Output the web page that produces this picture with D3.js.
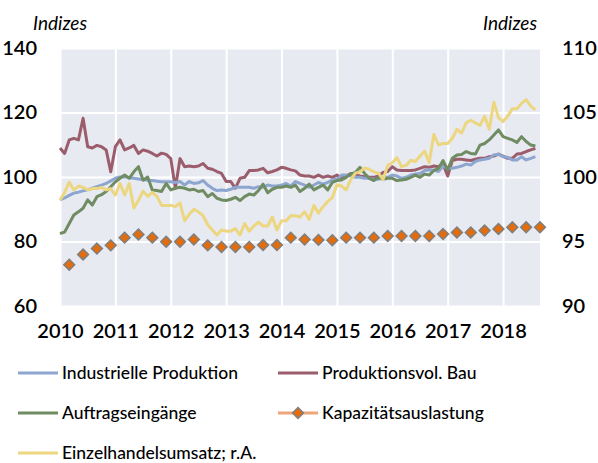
<!DOCTYPE html>
<html>
<head>
<meta charset="utf-8">
<script src="https://cdn.jsdelivr.net/npm/d3@7"></script>
<style>
  html, body { margin: 0; padding: 0; background: #fff; }
  svg { display: block; font-family: Lato, "Open Sans", sans-serif; }
</style>
</head>
<body>
<div id="chart"></div>
<script>
// monthly series, Jan 2010 .. Aug 2018 (left axis)
const industrie = [92.9, 93.5, 94.3, 95, 95.3, 95.7, 96, 96.5, 97, 97.5, 98, 98.8, 99.6, 100, 100.1, 99.8, 99.6, 99.4, 99.2, 99, 98.9, 98.7, 98.5, 98.5, 98.5, 98.3, 98.6, 97.5, 98.6, 98, 98.2, 98.9, 97.5, 96.5, 95.8, 96, 95.8, 96.2, 96.8, 96.8, 96.8, 96.8, 96.5, 97, 96.8, 97.5, 97.2, 97.2, 97.5, 98, 97.2, 98.6, 98, 97.5, 96.8, 97.5, 98.3, 97.8, 98.3, 99.1, 99.3, 100.6, 100.6, 100.3, 99.9, 99.9, 99.6, 99.6, 99.3, 99.3, 99.9, 99.9, 100.6, 100.3, 99.6, 99.9, 100.6, 100.9, 101.1, 102, 102.2, 102.2, 101.7, 103.4, 102.7, 102.7, 103, 103.4, 104, 103.7, 104.8, 105.3, 105.5, 105.8, 106.8, 107.1, 106.3, 106.1, 105.3, 105.3, 106.3, 105.3, 105.8, 106.3]
const bau = [109, 107.3, 111.5, 112, 111.5, 118.2, 109.4, 109, 109.8, 109.4, 108.4, 101.6, 109.4, 111.5, 108.4, 109, 109.8, 107.3, 108.4, 108, 107.3, 106.5, 107.4, 107, 105.7, 96.5, 105.7, 103.2, 103.4, 103.2, 103.4, 104.2, 102.7, 102.4, 101.7, 101.1, 98.6, 98.6, 96.5, 99.6, 99.9, 102, 102, 102.2, 102.7, 101.3, 101.7, 102.2, 103, 102.7, 102.2, 101.9, 100.6, 100.3, 100.3, 99.9, 100.6, 99.9, 100.3, 99.9, 100.6, 99.6, 100.3, 101.1, 100.6, 100.3, 100.1, 99.9, 99.9, 100.3, 101.4, 101.7, 103.2, 102.2, 102, 102, 102, 102.2, 102.7, 103.2, 103, 103.4, 103.2, 104, 100.3, 105.1, 105.5, 105.5, 105.3, 105.1, 105.5, 105.8, 105.8, 106.3, 106.5, 107.1, 106.5, 105.8, 105.8, 107.1, 107.3, 107.9, 108.4, 108.9]
const auftrag = [82.5, 82.9, 85.6, 88.2, 89.2, 90.3, 92.9, 91.3, 93.9, 94.5, 95.5, 97, 98.5, 99.6, 100.6, 99.6, 101.6, 103.2, 99, 100, 96, 95.8, 95.5, 98, 96, 96.5, 96.8, 96.5, 96, 96.2, 95.5, 95.8, 93.9, 94.9, 93.4, 92.9, 92.7, 93.1, 93.7, 92.7, 93.9, 94.7, 94.4, 95.8, 97.8, 95.1, 96.2, 96.8, 96.8, 97.2, 96.8, 97.5, 95.5, 96.5, 97.8, 96, 96.8, 97.5, 96, 98.3, 98.9, 99.1, 99.9, 100.9, 101.4, 103, 101.1, 99.6, 98.9, 99.9, 99.3, 99.6, 99.6, 98.9, 99.1, 99.3, 99.9, 100.6, 99.9, 100.9, 100.6, 102, 102.7, 105.1, 102.2, 105.8, 106.8, 107, 107.9, 107.3, 107.1, 109.9, 110.4, 111.5, 113, 114.6, 112.5, 112, 111.5, 110.7, 112.5, 111, 109.9, 109.6]
// retail sales, right axis
const einzelhandel = [98.2, 98.8, 99.6, 99, 99.3, 99.2, 99, 99.1, 99.1, 99.2, 99, 99.1, 98.6, 99.5, 98.6, 99.5, 97.6, 98.2, 98.9, 98.5, 98.8, 98.5, 97.8, 97.8, 97.8, 97.7, 98, 96.6, 97.1, 97.5, 97.3, 97, 96.3, 95.9, 95.5, 95.9, 95.8, 95.8, 96, 95.5, 96.4, 95.8, 96.2, 96.5, 96.2, 96.2, 96.9, 95.9, 96.6, 96.6, 97, 97, 96.9, 97.3, 96.7, 97.8, 97.2, 97.7, 98.1, 98.4, 99.4, 99.3, 99, 99.8, 100.3, 100.4, 100.7, 100.6, 100.4, 100.3, 99.8, 100.9, 101.1, 101.5, 100.8, 100.9, 101.3, 101.2, 101.6, 102, 101.1, 103.3, 102.5, 102.6, 102.6, 103, 103.7, 103.4, 104.2, 104.4, 104.2, 104, 104.7, 103.7, 105.8, 104.6, 104.3, 104.7, 105.3, 105.3, 105.7, 106, 105.5, 105.2]
// quarterly, Q1 2010 .. Q3 2018 (left axis)
const kapazitaet = [72.8, 76, 77.8, 78.8, 81.2, 82.2, 81.2, 79.9, 79.9, 80.6, 78.8, 78.3, 78.3, 78.3, 78.9, 78.9, 81.2, 80.6, 80.5, 80.4, 81.2, 81.2, 81.2, 81.7, 81.7, 81.7, 81.7, 82.3, 82.8, 82.8, 83.4, 83.9, 84.4, 84.4, 84.4]

const years = [2010, 2011, 2012, 2013, 2014, 2015, 2016, 2017, 2018]
const leftTicks = [60, 80, 100, 120, 140]
const rightTicks = [90, 95, 100, 105, 110]

const width = 598, height = 463
const plot = { left: 60, right: 540, top: 48, bottom: 306 }

const svg = d3.select("#chart").append("svg")
  .attr("width", width)
  .attr("height", height)

const x = d3.scaleLinear().domain([2010, 2010 + 104 / 12]).range([plot.left, plot.right])
const yL = d3.scaleLinear().domain([60, 140]).range([plot.bottom, plot.top])
const yR = d3.scaleLinear().domain([90, 110]).range([plot.bottom, plot.top])

svg.append("rect")
  .attr("x", plot.left).attr("y", plot.top)
  .attr("width", plot.right - plot.left).attr("height", plot.bottom - plot.top)
  .attr("fill", "#e8eaf1")

// grid
svg.append("g")
  .attr("transform", `translate(0,${plot.bottom})`)
  .call(d3.axisBottom(x).tickValues(years).tickSize(-(plot.bottom - plot.top)).tickFormat(""))
  .call(g => g.select(".domain").remove())
  .call(g => g.selectAll("line").attr("stroke", "#fff").attr("stroke-width", 2))
svg.append("g")
  .attr("transform", `translate(${plot.left},0)`)
  .call(d3.axisLeft(yL).tickValues(leftTicks).tickSize(-(plot.right - plot.left)).tickFormat(""))
  .call(g => g.select(".domain").remove())
  .call(g => g.selectAll("line").attr("stroke", "#fff").attr("stroke-width", 2))

// tick labels
const tickStyle = g => g.selectAll("text")
  .attr("font-size", 20).attr("font-family", "Lato").attr("font-weight", 600).attr("fill", "#000")
svg.append("g")
  .attr("transform", `translate(${plot.left},0)`)
  .call(d3.axisLeft(yL).tickValues(leftTicks).tickSize(0).tickPadding(23))
  .call(g => g.select(".domain").remove())
  .call(tickStyle)
svg.append("g")
  .attr("transform", `translate(${plot.right},0)`)
  .call(d3.axisRight(yR).tickValues(rightTicks).tickSize(0).tickPadding(22))
  .call(g => g.select(".domain").remove())
  .call(tickStyle)
svg.append("g")
  .attr("transform", `translate(0,${plot.bottom})`)
  .call(d3.axisBottom(x).tickValues(years).tickSize(0).tickPadding(18).tickFormat(d3.format("d")))
  .call(g => g.select(".domain").remove())
  .call(tickStyle)

svg.append("text").attr("x", 33).attr("y", 30).text("Indizes")
  .attr("font-size", 19).attr("font-style", "italic")
svg.append("text").attr("x", 537).attr("y", 30).attr("text-anchor", "end").text("Indizes")
  .attr("font-size", 19).attr("font-style", "italic")

const monthX = (d, i) => x(2010 + i / 12)
const series = [
  { name: "Produktionsvol. Bau", values: bau, y: yL, color: "#9b5d6c" },
  { name: "Industrielle Produktion", values: industrie, y: yL, color: "#8ca6cf" },
  { name: "Auftragseingänge", values: auftrag, y: yL, color: "#6f8c62" },
  { name: "Einzelhandelsumsatz; r.A.", values: einzelhandel, y: yR, color: "#ecd680" }
]

series.forEach(s => {
  svg.append("path")
    .datum(s.values)
    .attr("fill", "none")
    .attr("stroke", s.color)
    .attr("stroke-width", 3)
    .attr("stroke-linejoin", "round")
    .attr("d", d3.line().x(monthX).y(d => s.y(d)))
})

const diamond = d3.symbol().type(d3.symbolDiamond2).size(75)
svg.append("g")
  .selectAll("path")
  .data(kapazitaet)
  .join("path")
  .attr("d", diamond)
  .attr("transform", (d, i) => `translate(${x(2010 + (3 * i + 2) / 12)},${yL(d)})`)
  .attr("fill", "#e46c0a")
  .attr("stroke", "#7f7f7f")
  .attr("stroke-width", 1.5)

// legend
const legendItems = [
  { name: "Industrielle Produktion", color: "#8ca6cf", col: 0, row: 0 },
  { name: "Produktionsvol. Bau", color: "#9b5d6c", col: 1, row: 0 },
  { name: "Auftragseingänge", color: "#6f8c62", col: 0, row: 1 },
  { name: "Kapazitätsauslastung", color: "#eda67a", col: 1, row: 1, marker: true },
  { name: "Einzelhandelsumsatz; r.A.", color: "#ecd680", col: 0, row: 2 }
]
const colX = [18, 278]
const rowY = [373, 413, 453]
const legend = svg.append("g")
legendItems.forEach(it => {
  const lx = colX[it.col], ly = rowY[it.row]
  legend.append("line")
    .attr("x1", lx).attr("x2", lx + 40).attr("y1", ly).attr("y2", ly)
    .attr("stroke", it.color).attr("stroke-width", 3)
  if (it.marker) {
    legend.append("path")
      .attr("d", diamond)
      .attr("transform", `translate(${lx + 20},${ly})`)
      .attr("fill", "#e46c0a").attr("stroke", "#7f7f7f").attr("stroke-width", 1.5)
  }
  legend.append("text")
    .attr("x", lx + 44).attr("y", ly + 6)
    .attr("font-size", 17.5)
    .attr("font-weight", 500)
    .text(it.name)
})
</script>
</body>
</html>
